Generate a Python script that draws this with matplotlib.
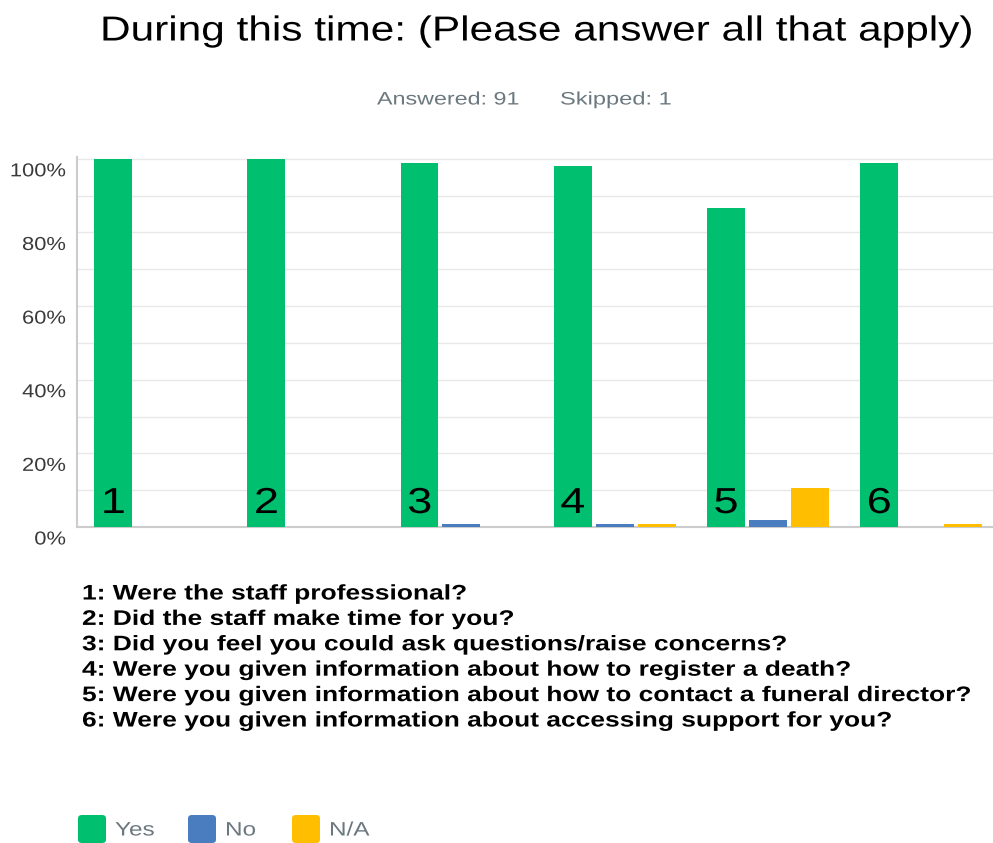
import matplotlib.pyplot as plt
import numpy as np
from matplotlib.transforms import Affine2D, ScaledTranslation
from matplotlib.patches import FancyBboxPatch
from matplotlib.patheffects import AbstractPathEffect

plt.rcParams['font.family'] = ['Liberation Sans', 'DejaVu Sans']

# survey results, percent of respondents per question
questions = [
    "1: Were the staff professional?",
    "2: Did the staff make time for you?",
    "3: Did you feel you could ask questions/raise concerns?",
    "4: Were you given information about how to register a death?",
    "5: Were you given information about how to contact a funeral director?",
    "6: Were you given information about accessing support for you?",
]
bar_numbers = ["1", "2", "3", "4", "5", "6"]
yes = [100.0, 100.0, 99.0, 98.0, 86.6, 99.0]
no = [0.0, 0.0, 0.7, 0.7, 1.8, 0.0]
na = [0.0, 0.0, 0.0, 0.7, 10.7, 0.7]
series_names = ["Yes", "No", "N/A"]
yticks = [0, 20, 40, 60, 80, 100]

colors = ["#00bf6f", "#4a7dbf", "#ffbe00"]


class Widen(AbstractPathEffect):
    """Stretch glyphs horizontally about the left, centre or right of the line."""

    def __init__(self, sx, anchor='left'):
        super().__init__()
        self.sx = sx
        self.anchor = anchor

    def draw_path(self, renderer, gc, tpath, affine, rgbFace=None):
        xs = tpath.vertices[:, 0]
        if len(xs) == 0:
            x0 = 0
        elif self.anchor == 'right':
            x0 = xs.max()
        elif self.anchor == 'center':
            x0 = (xs.min() + xs.max()) / 2
        else:
            x0 = 0
        stretch = Affine2D().translate(-x0, 0).scale(self.sx, 1).translate(x0, 0)
        renderer.draw_path(gc, tpath, stretch + affine, rgbFace)


fig = plt.figure(figsize=(9.93, 8.43), dpi=100)
ax = fig.add_axes([77 / 993, 1 - 527 / 843, 1 - 77 / 993, (527 - 157) / 843])

x = np.arange(len(yes))
w = 0.248
off = 0.274
for vals, dx, c in zip([yes, no, na], [-off, 0, off], colors):
    ax.bar(x + dx, vals, width=w, color=c, zorder=3)

# question numbers written inside the green bars
for xi, lab in zip(x, bar_numbers):
    ax.text(xi - off, 3.8, lab, ha='center', va='baseline', fontsize=26,
            color='black', zorder=4, path_effects=[Widen(1.25, 'center')])

ax.set_xlim(-0.51, 5.47)
ax.set_ylim(0, 100.5)
ax.set_yticks(yticks)
ax.set_yticklabels([f"{v}%" for v in yticks], fontsize=13.5, color='#3a3a3a')
ax.set_yticks(np.arange(10, 100, 10), minor=True)
ax.tick_params(axis='y', which='both', length=0, pad=8)
ax.set_xticks([])
ax.grid(axis='y', which='both', color='#e8e8e8', linewidth=1, zorder=0)
ax.set_axisbelow(True)
for lab in ax.get_yticklabels():
    lab.set_transform(lab.get_transform() + ScaledTranslation(0, -0.11, fig.dpi_scale_trans))
    lab.set_path_effects([Widen(1.17, 'right')])
for s in ['top', 'right']:
    ax.spines[s].set_visible(False)
for s in ['left', 'bottom']:
    ax.spines[s].set_color('#cccccc')
    ax.spines[s].set_linewidth(1.5)

fig.text(100 / 993, 1 - 31 / 843, "During this time: (Please answer all that apply)",
         ha='left', va='center', fontsize=25, color='black',
         path_effects=[Widen(1.22)])
fig.text(377 / 993, 1 - 100 / 843, "Answered: 91", ha='left', va='center',
         fontsize=13, color='#6b787f', path_effects=[Widen(1.29)])
fig.text(560 / 993, 1 - 100 / 843, "Skipped: 1", ha='left', va='center',
         fontsize=13, color='#6b787f', path_effects=[Widen(1.31)])

for i, q in enumerate(questions):
    fig.text(82 / 993, 1 - (594 + 25.4 * i) / 843, q, ha='left', va='center',
             fontsize=15.2, fontweight='bold', color='black',
             path_effects=[Widen(1.25)])

# legend row along the bottom
leg_x = [78, 188, 292]
for lx, name, c in zip(leg_x, series_names, colors):
    box = FancyBboxPatch((lx / 993, 0), 28 / 993, 28 / 843,
                         boxstyle='round,pad=0,rounding_size=0.004',
                         transform=fig.transFigure, facecolor=c, edgecolor='none')
    fig.patches.append(box)
    fig.text((lx + 37) / 993, 1 - 831 / 843, name, ha='left', va='center',
             fontsize=14, color='#6b787f', path_effects=[Widen(1.25)])

fig.savefig('out.png', dpi=100)
